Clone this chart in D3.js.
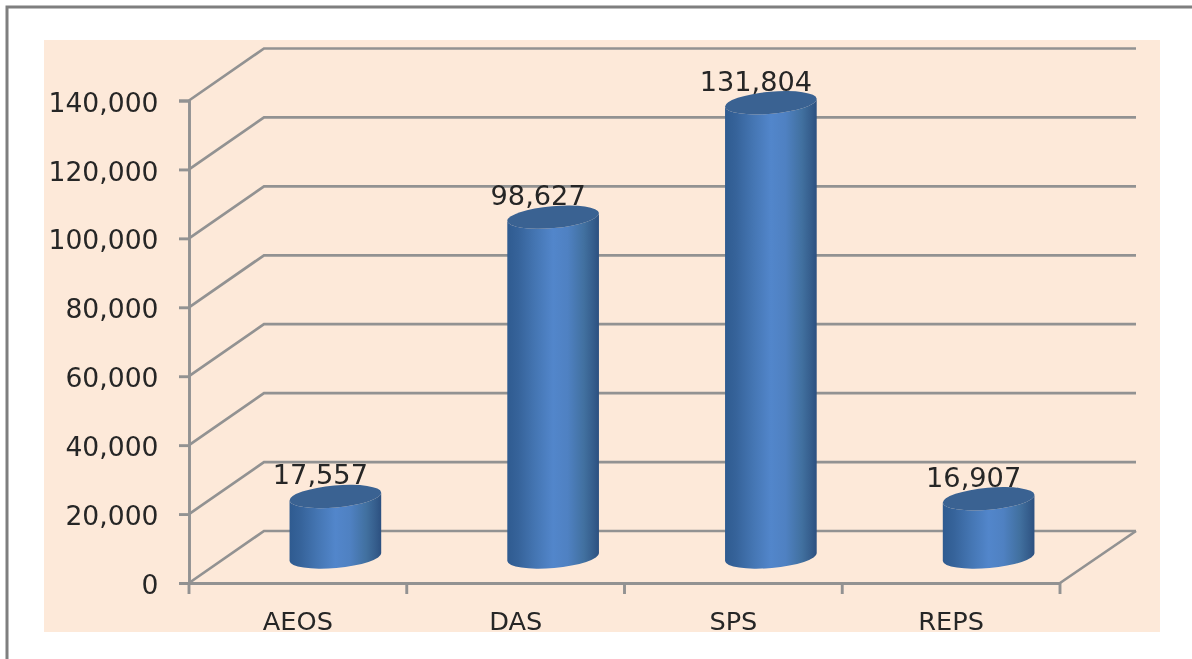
<!DOCTYPE html>
<html><head><meta charset="utf-8">
<script src="https://cdn.jsdelivr.net/npm/d3@7"></script>
<style>
html,body{margin:0;padding:0;background:#fff;overflow:hidden}
svg{display:block;filter:blur(0.7px)}
text{font-family:"DejaVu Sans",sans-serif;fill:#262626}
</style></head><body>
<svg id="c" width="1192" height="659"></svg>
<script>
const categories = ["AEOS","DAS","SPS","REPS"];
const values = [17557,98627,131804,16907];
const tickValues = [0,20000,40000,60000,80000,100000,120000,140000];

const W=1192,H=659;
const svg=d3.select("#c");
const frontL=189,frontR=1060,frontB=583,frontT=100.5;
const depthX=75,depthY=52;
const grid="#929292";

const x=d3.scaleBand().domain(categories).range([frontL,frontR]);
const y=d3.scaleLinear().domain([0,140000]).range([frontB,frontT]);

// outer frame and panel
svg.append("rect").attr("width",W).attr("height",H).attr("fill","#fff");
svg.append("path").attr("d",`M7,${H}V7H${W}`).attr("fill","none").attr("stroke","#7f7f7f").attr("stroke-width",3);
svg.append("rect").attr("x",44).attr("y",40).attr("width",1116).attr("height",592).attr("fill","#fde9d9");

const defs=svg.append("defs");
const g=defs.append("linearGradient").attr("id","cyl");
[[0,"#2f5b90"],[0.12,"#36639a"],[0.3,"#4475b2"],[0.5,"#5286cb"],[0.66,"#4f81c2"],[0.84,"#41709f"],[0.94,"#355d8c"],[1,"#2c5080"]]
  .forEach(s=>g.append("stop").attr("offset",s[0]).attr("stop-color",s[1]));

// walls: gridlines along the side wall and the back wall
const walls=svg.append("g").attr("fill","none").attr("stroke",grid).attr("stroke-width",2.7);
walls.selectAll("path").data(tickValues).join("path")
  .attr("d",v=>`M${frontL},${y(v)}L${frontL+depthX},${y(v)-depthY}H${frontR+depthX+1}`);
walls.append("path").attr("d",`M${frontR},${frontB}L${frontR+depthX+1},${y(0)-depthY}`);

// axes
const yAxis=svg.append("g").attr("transform",`translate(${frontL},0)`)
  .call(d3.axisLeft(y).tickValues(tickValues).tickFormat(d3.format(",")).tickSize(10).tickPadding(20.5));
const xAxis=svg.append("g").attr("transform",`translate(0,${frontB})`)
  .call(d3.axisBottom(x).tickSize(0).tickPadding(29));
// category boundary ticks
xAxis.selectAll(".bound").data(categories.concat(["end"])).join("line").attr("class","bound")
  .attr("x1",(d,i)=>frontL+i*x.bandwidth()).attr("x2",(d,i)=>frontL+i*x.bandwidth())
  .attr("y1",0).attr("y2",11);
[yAxis,xAxis].forEach(a=>{
  a.selectAll("path.domain").attr("stroke",grid).attr("stroke-width",2.9);
  a.selectAll("line").attr("stroke",grid).attr("stroke-width",2.9);
  a.selectAll("text").attr("font-family",'"DejaVu Sans",sans-serif').attr("fill","#262626");
});
yAxis.selectAll("text").attr("font-size",26.6).attr("dy","0.40em");
xAxis.selectAll("text").attr("font-size",25.6).attr("dy","0.71em");

// cylinders
const rx=46,ry=11,tilt=-5;
const ca=Math.cos(tilt*Math.PI/180),sa=Math.sin(tilt*Math.PI/180);
const cx=d=>x(d.c)+x.bandwidth()/2+depthX/2;
const baseY=y(0)-depthY/2;
const topY=d=>baseY-(y(0)-y(d.v));
const data=categories.map((c,i)=>({c,v:values[i]}));
const bars=svg.append("g").selectAll("g").data(data).join("g");
bars.append("path").attr("fill","url(#cyl)").attr("d",d=>{
  const X=cx(d),T=topY(d),dx=rx*ca,dy=rx*sa;
  return `M${X-dx},${T-dy}L${X-dx},${baseY-dy}A${rx},${ry} ${tilt} 0 0 ${X+dx},${baseY+dy}L${X+dx},${T+dy}A${rx},${ry} ${tilt} 0 1 ${X-dx},${T-dy}Z`;
});
bars.append("ellipse").attr("fill","#3a6292")
  .attr("rx",rx).attr("ry",ry)
  .attr("transform",d=>`translate(${cx(d)},${topY(d)}) rotate(${tilt})`);
bars.append("text").attr("font-size",27.2).attr("text-anchor","middle")
  .attr("x",d=>cx(d)-15).attr("y",d=>topY(d)-12)
  .text(d=>d3.format(",")(d.v));
</script></body></html>
